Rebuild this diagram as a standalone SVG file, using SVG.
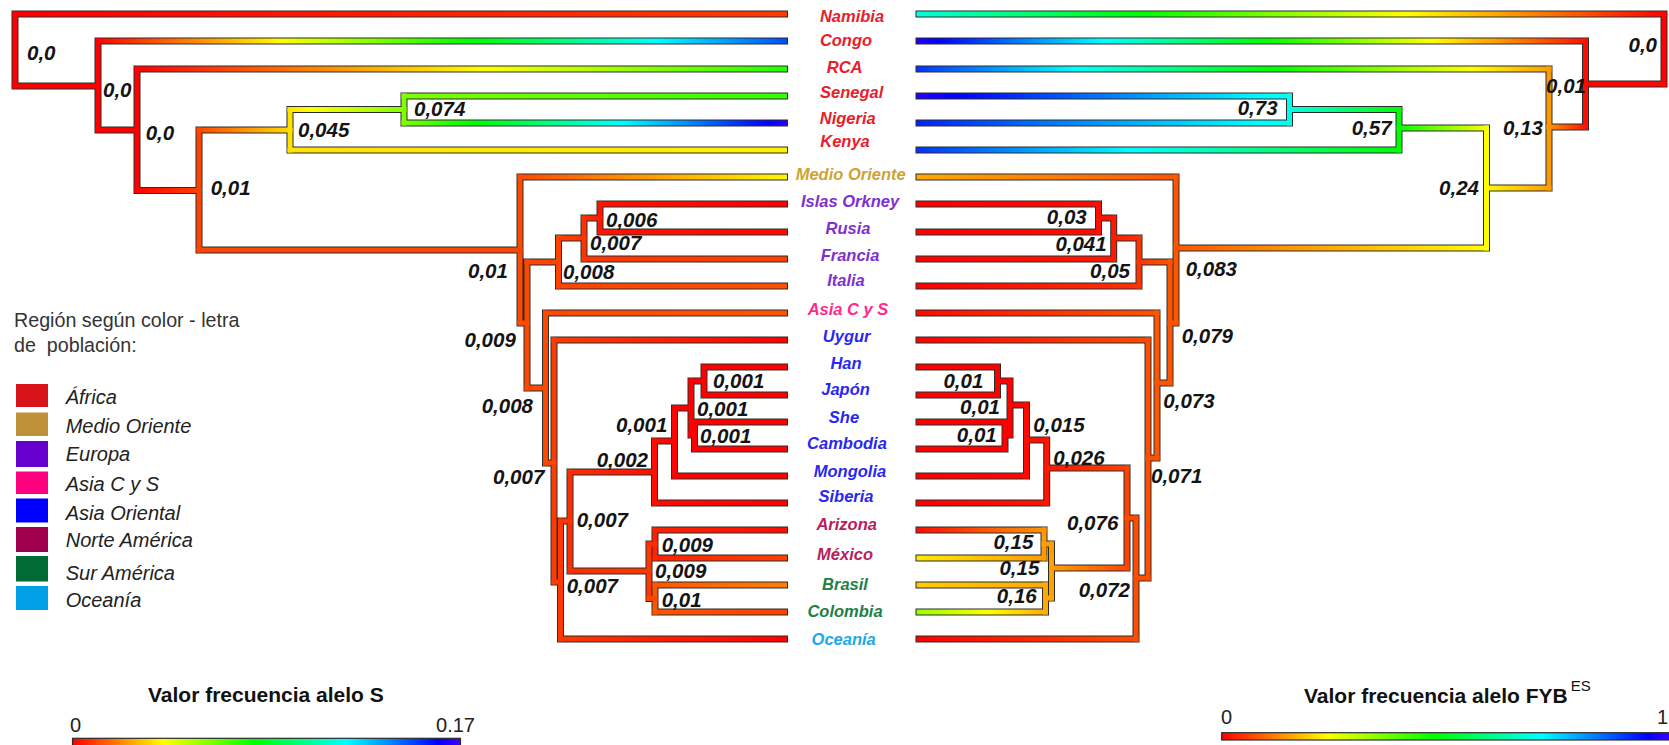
<svg xmlns="http://www.w3.org/2000/svg" width="1669" height="745" viewBox="0 0 1669 745">
<style>
.o{fill:none;stroke:#2c2c2c;stroke-width:7;stroke-linecap:square}
.n{font-family:'Liberation Sans',Arial,sans-serif;font-weight:bold;font-style:italic;font-size:20.5px;fill:#141414}
.e{text-anchor:end}
.t{font-family:'Liberation Sans',Arial,sans-serif;font-weight:bold;font-style:italic;font-size:16.5px;text-anchor:middle}
.af{fill:#E8202A}.mo{fill:#CDA434}.eu{fill:#8030D0}.ac{fill:#FF2A8A}.ao{fill:#2828F0}.na{fill:#B8205A}.sa{fill:#208048}.oc{fill:#20A8E8}
.lg{font-family:'Liberation Sans',Arial,sans-serif;font-style:italic;font-size:20px;fill:#222}
.hd{font-family:'Liberation Sans',Arial,sans-serif;font-size:19.7px;fill:#333}
.tt{font-family:'Liberation Sans',Arial,sans-serif;font-weight:bold;font-size:21px;fill:#111}
.sc{font-family:'Liberation Sans',Arial,sans-serif;font-size:20px;fill:#222}
</style>
<defs>
<linearGradient id="gL_nam"><stop offset="0" stop-color="#FF0000"/><stop offset="1" stop-color="#FF3C00"/></linearGradient>
<linearGradient id="gL_con"><stop offset="0" stop-color="#FF0000"/><stop offset=".135" stop-color="#FF8000"/><stop offset=".27" stop-color="#FFFF00"/><stop offset=".405" stop-color="#80FF00"/><stop offset=".541" stop-color="#00FF00"/><stop offset=".676" stop-color="#00FF80"/><stop offset=".811" stop-color="#00FFFF"/><stop offset=".946" stop-color="#0080FF"/><stop offset="1" stop-color="#004CFF"/></linearGradient>
<linearGradient id="gL_rca"><stop offset="0" stop-color="#FF0000"/><stop offset=".268" stop-color="#FF8000"/><stop offset=".536" stop-color="#FFFF00"/><stop offset=".804" stop-color="#80FF00"/><stop offset="1" stop-color="#22FF00"/></linearGradient>
<linearGradient id="gL_r34"><stop offset="0" stop-color="#FF0000"/><stop offset="1" stop-color="#FF4400"/></linearGradient>
<linearGradient id="gL_r45"><stop offset="0" stop-color="#FF4400"/><stop offset=".378" stop-color="#FF8000"/><stop offset="1" stop-color="#FFE200"/></linearGradient>
<linearGradient id="gL_r56"><stop offset="0" stop-color="#FFE200"/><stop offset=".189" stop-color="#FFFF00"/><stop offset="1" stop-color="#80FF00"/></linearGradient>
<linearGradient id="gL_sen"><stop offset="0" stop-color="#80FF00"/><stop offset="1" stop-color="#33FF00"/></linearGradient>
<linearGradient id="gL_nig"><stop offset="0" stop-color="#80FF00"/><stop offset=".19" stop-color="#00FF00"/><stop offset=".38" stop-color="#00FF80"/><stop offset=".57" stop-color="#00FFFF"/><stop offset=".759" stop-color="#0080FF"/><stop offset=".949" stop-color="#0000FF"/><stop offset="1" stop-color="#2200FF"/></linearGradient>
<linearGradient id="gL_ken"><stop offset="0" stop-color="#FFE200"/><stop offset="1" stop-color="#FFF200"/></linearGradient>
<linearGradient id="gL_mo"><stop offset="0" stop-color="#FF4800"/><stop offset=".317" stop-color="#FF8000"/><stop offset="1" stop-color="#FFF700"/></linearGradient>
<linearGradient id="h16_12"><stop offset="0" stop-color="#FF4400"/><stop offset="1" stop-color="#FF3300"/></linearGradient>
<linearGradient id="h12_5"><stop offset="0" stop-color="#FF3300"/><stop offset="1" stop-color="#FF1500"/></linearGradient>
<linearGradient id="h5_0"><stop offset="0" stop-color="#FF1500"/><stop offset="1" stop-color="#FF0000"/></linearGradient>
<linearGradient id="h5_2"><stop offset="0" stop-color="#FF1500"/><stop offset="1" stop-color="#FF0900"/></linearGradient>
<linearGradient id="h12_15"><stop offset="0" stop-color="#FF3300"/><stop offset="1" stop-color="#FF4000"/></linearGradient>
<linearGradient id="h16_19"><stop offset="0" stop-color="#FF4400"/><stop offset="1" stop-color="#FF5100"/></linearGradient>
<linearGradient id="h17_20"><stop offset="0" stop-color="#FF4800"/><stop offset="1" stop-color="#FF5500"/></linearGradient>
<linearGradient id="h14_0"><stop offset="0" stop-color="#FF3C00"/><stop offset="1" stop-color="#FF0000"/></linearGradient>
<linearGradient id="h13_0"><stop offset="0" stop-color="#FF3700"/><stop offset="1" stop-color="#FF0000"/></linearGradient>
<linearGradient id="h11_3"><stop offset="0" stop-color="#FF2F00"/><stop offset="1" stop-color="#FF0D00"/></linearGradient>
<linearGradient id="h3_0"><stop offset="0" stop-color="#FF0D00"/><stop offset="1" stop-color="#FF0000"/></linearGradient>
<linearGradient id="h3_1"><stop offset="0" stop-color="#FF0D00"/><stop offset="1" stop-color="#FF0400"/></linearGradient>
<linearGradient id="h11_13"><stop offset="0" stop-color="#FF2F00"/><stop offset="1" stop-color="#FF3700"/></linearGradient>
<linearGradient id="h8_3"><stop offset="0" stop-color="#FF2200"/><stop offset="1" stop-color="#FF0D00"/></linearGradient>
<linearGradient id="h8_15"><stop offset="0" stop-color="#FF2200"/><stop offset="1" stop-color="#FF4000"/></linearGradient>
<linearGradient id="h20_30"><stop offset="0" stop-color="#FF5500"/><stop offset="1" stop-color="#FF8000"/></linearGradient>
<linearGradient id="h20_15"><stop offset="0" stop-color="#FF5500"/><stop offset="1" stop-color="#FF4000"/></linearGradient>
<linearGradient id="gR_nam"><stop offset="0" stop-color="#00FFDD"/><stop offset=".128" stop-color="#00FF80"/><stop offset=".302" stop-color="#00FF00"/><stop offset=".477" stop-color="#80FF00"/><stop offset=".651" stop-color="#FFFF00"/><stop offset=".826" stop-color="#FF8000"/><stop offset="1" stop-color="#FF0000"/></linearGradient>
<linearGradient id="gR_con"><stop offset="0" stop-color="#2200FF"/><stop offset=".033" stop-color="#0000FF"/><stop offset=".155" stop-color="#0080FF"/><stop offset=".278" stop-color="#00FFFF"/><stop offset=".4" stop-color="#00FF80"/><stop offset=".522" stop-color="#00FF00"/><stop offset=".645" stop-color="#80FF00"/><stop offset=".767" stop-color="#FFFF00"/><stop offset=".89" stop-color="#FF8000"/><stop offset="1" stop-color="#FF0D00"/></linearGradient>
<linearGradient id="gR_rca"><stop offset="0" stop-color="#0033FF"/><stop offset=".094" stop-color="#0080FF"/><stop offset=".25" stop-color="#00FFFF"/><stop offset=".406" stop-color="#00FF80"/><stop offset=".5625" stop-color="#00FF00"/><stop offset=".719" stop-color="#80FF00"/><stop offset=".875" stop-color="#FFFF00"/><stop offset="1" stop-color="#FF9900"/></linearGradient>
<linearGradient id="gR_r23"><stop offset="0" stop-color="#FF9900"/><stop offset=".18" stop-color="#FF8000"/><stop offset="1" stop-color="#FF0D00"/></linearGradient>
<linearGradient id="gR_r34"><stop offset="0" stop-color="#FFFF00"/><stop offset="1" stop-color="#FF9900"/></linearGradient>
<linearGradient id="gR_r45"><stop offset="0" stop-color="#00FF00"/><stop offset=".5" stop-color="#80FF00"/><stop offset="1" stop-color="#FFFF00"/></linearGradient>
<linearGradient id="gR_r56"><stop offset="0" stop-color="#00FFEA"/><stop offset=".4545" stop-color="#00FF80"/><stop offset="1" stop-color="#00FF00"/></linearGradient>
<linearGradient id="gR_sen"><stop offset="0" stop-color="#2200FF"/><stop offset=".11" stop-color="#0000FF"/><stop offset=".521" stop-color="#0080FF"/><stop offset=".932" stop-color="#00FFFF"/><stop offset="1" stop-color="#00FFEA"/></linearGradient>
<linearGradient id="gR_nig"><stop offset="0" stop-color="#0022FF"/><stop offset=".386" stop-color="#0080FF"/><stop offset=".912" stop-color="#00FFFF"/><stop offset="1" stop-color="#00FFEA"/></linearGradient>
<linearGradient id="gR_ken"><stop offset="0" stop-color="#0033FF"/><stop offset=".167" stop-color="#0080FF"/><stop offset=".444" stop-color="#00FFFF"/><stop offset=".722" stop-color="#00FF80"/><stop offset="1" stop-color="#00FF00"/></linearGradient>
<linearGradient id="gR_r4a"><stop offset="0" stop-color="#FF5500"/><stop offset=".25" stop-color="#FF8000"/><stop offset="1" stop-color="#FFFF00"/></linearGradient>
<linearGradient id="gR_mo"><stop offset="0" stop-color="#FFAA00"/><stop offset="1" stop-color="#FF5500"/></linearGradient>
<linearGradient id="h12_20"><stop offset="0" stop-color="#FF3300"/><stop offset="1" stop-color="#FF5500"/></linearGradient>
<linearGradient id="h0_12"><stop offset="0" stop-color="#FF0000"/><stop offset="1" stop-color="#FF3300"/></linearGradient>
<linearGradient id="h6_12"><stop offset="0" stop-color="#FF1A00"/><stop offset="1" stop-color="#FF3300"/></linearGradient>
<linearGradient id="h0_6"><stop offset="0" stop-color="#FF0000"/><stop offset="1" stop-color="#FF1A00"/></linearGradient>
<linearGradient id="h3_6"><stop offset="0" stop-color="#FF0D00"/><stop offset="1" stop-color="#FF1A00"/></linearGradient>
<linearGradient id="h0_3"><stop offset="0" stop-color="#FF0000"/><stop offset="1" stop-color="#FF0D00"/></linearGradient>
<linearGradient id="h2_20"><stop offset="0" stop-color="#FF0900"/><stop offset="1" stop-color="#FF5500"/></linearGradient>
<linearGradient id="h0_18"><stop offset="0" stop-color="#FF0000"/><stop offset="1" stop-color="#FF4D00"/></linearGradient>
<linearGradient id="h5_16"><stop offset="0" stop-color="#FF1500"/><stop offset="1" stop-color="#FF4400"/></linearGradient>
<linearGradient id="h0_5"><stop offset="0" stop-color="#FF0000"/><stop offset="1" stop-color="#FF1500"/></linearGradient>
<linearGradient id="h2_5"><stop offset="0" stop-color="#FF0900"/><stop offset="1" stop-color="#FF1500"/></linearGradient>
<linearGradient id="h0_2"><stop offset="0" stop-color="#FF0000"/><stop offset="1" stop-color="#FF0900"/></linearGradient>
<linearGradient id="h38_16"><stop offset="0" stop-color="#FFA200"/><stop offset="1" stop-color="#FF4400"/></linearGradient>
<linearGradient id="h3_36"><stop offset="0" stop-color="#FF0D00"/><stop offset="1" stop-color="#FF9900"/></linearGradient>
<linearGradient id="h55_36"><stop offset="0" stop-color="#FFEA00"/><stop offset="1" stop-color="#FF9900"/></linearGradient>
<linearGradient id="h48_40"><stop offset="0" stop-color="#FFCC00"/><stop offset="1" stop-color="#FFAA00"/></linearGradient>
<linearGradient id="h85_40"><stop offset="0" stop-color="#95FF00"/><stop offset=".556" stop-color="#FFFF00"/><stop offset="1" stop-color="#FFAA00"/></linearGradient>
<linearGradient id="cbar"><stop offset="0" stop-color="#FF0000"/><stop offset=".118" stop-color="#FF8000"/><stop offset=".235" stop-color="#FFFF00"/><stop offset=".353" stop-color="#80FF00"/><stop offset=".471" stop-color="#00FF00"/><stop offset=".588" stop-color="#00FF80"/><stop offset=".706" stop-color="#00FFFF"/><stop offset=".824" stop-color="#0080FF"/><stop offset=".941" stop-color="#0000FF"/><stop offset="1" stop-color="#4000FF"/></linearGradient>
</defs>
<rect width="1669" height="745" fill="#fff"/>

<g id="connectors">
<g id="tree-left">
<path class="o" d="M15 14H784.5M15 14V86M15 86H98M98 41V130M98 41H784.5M98 130H137M137 69V190.5M137 69H784.5M137 190.5H199M199 130V250M199 130H290M290 109.5V150M290 150H784.5M290 109.5H404M404 96V123M404 96H784.5M404 123H784.5M199 250H520M520 177V323M520 177H784.5M520 323H527M527 262V388M527 262H558.5M558.5 238V286M558.5 286H784.5M558.5 238H584M584 218V259M584 259H784.5M584 218H600M600 204V232M600 204H784.5M600 232H784.5M527 388H545.5M545.5 313V463M545.5 313H784.5M545.5 463H554M554 340V582M554 340H784.5M554 582H560.5M560.5 521V639M560.5 639H784.5M560.5 521H570M570 472V571M570 472H654.5M654.5 441V503M654.5 503H784.5M654.5 441H674.5M674.5 408V476M674.5 476H784.5M674.5 408H691M691 381V435M691 381H704M704 367V395M704 367H784.5M704 395H784.5M691 435H694.5M694.5 422V449M694.5 422H784.5M694.5 449H784.5M570 571H649M649 544V598.5M649 544H655M655 530V558M655 530H784.5M655 558H784.5M649 598.5H655M655 585V612M655 585H784.5M655 612H784.5"/>
<rect x="12.5" y="11.5" width="5" height="77" fill="#FF0000"/>
<rect x="95.5" y="38.5" width="5" height="94" fill="#FF0000"/>
<rect x="134.5" y="66.5" width="5" height="126.5" fill="#FF0000"/>
<rect x="196.5" y="127.5" width="5" height="125" fill="#FF4400"/>
<rect x="287.5" y="107" width="5" height="45.5" fill="#FFE200"/>
<rect x="401.5" y="93.5" width="5" height="32" fill="#80FF00"/>
<rect x="517.5" y="174.5" width="5" height="151" fill="#FF4800"/>
<rect x="524.5" y="259.5" width="5" height="131" fill="#FF4800"/>
<rect x="556" y="235.5" width="5" height="53" fill="#FF4400"/>
<rect x="581.5" y="215.5" width="5" height="46" fill="#FF3300"/>
<rect x="597.5" y="201.5" width="5" height="33" fill="#FF1500"/>
<rect x="543" y="310.5" width="5" height="155" fill="#FF4800"/>
<rect x="551.5" y="337.5" width="5" height="247" fill="#FF3C00"/>
<rect x="558" y="518.5" width="5" height="123" fill="#FF3700"/>
<rect x="567.5" y="469.5" width="5" height="104" fill="#FF2F00"/>
<rect x="652" y="438.5" width="5" height="67" fill="#FF0D00"/>
<rect x="672" y="405.5" width="5" height="73" fill="#FF0400"/>
<rect x="688.5" y="378.5" width="5" height="59" fill="#FF0000"/>
<rect x="701.5" y="364.5" width="5" height="33" fill="#FF0000"/>
<rect x="692" y="419.5" width="5" height="32" fill="#FF0000"/>
<rect x="646.5" y="541.5" width="5" height="59.5" fill="#FF3700"/>
<rect x="652.5" y="527.5" width="5" height="33" fill="#FF2200"/>
<rect x="652.5" y="582.5" width="5" height="32" fill="#FF5500"/>
<rect x="12.5" y="11.5" width="774.5" height="5" fill="url(#gL_nam)"/>
<rect x="12.5" y="83.5" width="88" height="5" fill="#FF0000"/>
<rect x="95.5" y="38.5" width="691.5" height="5" fill="url(#gL_con)"/>
<rect x="95.5" y="127.5" width="44" height="5" fill="#FF0000"/>
<rect x="134.5" y="66.5" width="652.5" height="5" fill="url(#gL_rca)"/>
<rect x="134.5" y="188" width="67" height="5" fill="url(#gL_r34)"/>
<rect x="196.5" y="127.5" width="96" height="5" fill="url(#gL_r45)"/>
<rect x="287.5" y="107" width="119" height="5" fill="url(#gL_r56)"/>
<rect x="401.5" y="93.5" width="385.5" height="5" fill="url(#gL_sen)"/>
<rect x="401.5" y="120.5" width="385.5" height="5" fill="url(#gL_nig)"/>
<rect x="287.5" y="147.5" width="499.5" height="5" fill="url(#gL_ken)"/>
<rect x="196.5" y="247.5" width="326" height="5" fill="#FF4600"/>
<rect x="517.5" y="174.5" width="269.5" height="5" fill="url(#gL_mo)"/>
<rect x="517.5" y="320.5" width="12" height="5" fill="#FF4800"/>
<rect x="524.5" y="259.5" width="36.5" height="5" fill="#FF4600"/>
<rect x="556" y="235.5" width="30.5" height="5" fill="url(#h16_12)"/>
<rect x="581.5" y="215.5" width="21" height="5" fill="url(#h12_5)"/>
<rect x="597.5" y="201.5" width="189.5" height="5" fill="url(#h5_0)"/>
<rect x="597.5" y="229.5" width="189.5" height="5" fill="url(#h5_2)"/>
<rect x="581.5" y="256.5" width="205.5" height="5" fill="url(#h12_15)"/>
<rect x="556" y="283.5" width="231" height="5" fill="url(#h16_19)"/>
<rect x="524.5" y="385.5" width="23.5" height="5" fill="#FF4800"/>
<rect x="543" y="310.5" width="244" height="5" fill="url(#h17_20)"/>
<rect x="543" y="460.5" width="13.5" height="5" fill="#FF4200"/>
<rect x="551.5" y="337.5" width="235.5" height="5" fill="url(#h14_0)"/>
<rect x="551.5" y="579.5" width="11.5" height="5" fill="#FF3A00"/>
<rect x="558" y="636.5" width="229" height="5" fill="url(#h13_0)"/>
<rect x="558" y="518.5" width="14.5" height="5" fill="#FF3300"/>
<rect x="567.5" y="469.5" width="89.5" height="5" fill="url(#h11_3)"/>
<rect x="652" y="500.5" width="135" height="5" fill="url(#h3_0)"/>
<rect x="652" y="438.5" width="25" height="5" fill="url(#h3_1)"/>
<rect x="672" y="473.5" width="115" height="5" fill="#FF0200"/>
<rect x="672" y="405.5" width="21.5" height="5" fill="#FF0000"/>
<rect x="688.5" y="378.5" width="18" height="5" fill="#FF0000"/>
<rect x="701.5" y="364.5" width="85.5" height="5" fill="#FF0000"/>
<rect x="701.5" y="392.5" width="85.5" height="5" fill="#FF0000"/>
<rect x="688.5" y="432.5" width="8.5" height="5" fill="#FF0000"/>
<rect x="692" y="419.5" width="95" height="5" fill="#FF0000"/>
<rect x="692" y="446.5" width="95" height="5" fill="#FF0000"/>
<rect x="567.5" y="568.5" width="84" height="5" fill="url(#h11_13)"/>
<rect x="646.5" y="541.5" width="11" height="5" fill="#FF2C00"/>
<rect x="652.5" y="527.5" width="134.5" height="5" fill="url(#h8_3)"/>
<rect x="652.5" y="555.5" width="134.5" height="5" fill="url(#h8_15)"/>
<rect x="646.5" y="596" width="11" height="5" fill="#FF4400"/>
<rect x="652.5" y="582.5" width="134.5" height="5" fill="url(#h20_30)"/>
<rect x="652.5" y="609.5" width="134.5" height="5" fill="url(#h20_15)"/>
</g>

<g id="tree-right">
<path class="o" d="M919 14H1664M1664 14V84M1585.5 84H1664M1585.5 41V127M919 41H1585.5M1549 127H1585.5M1549 69V188M919 69H1549M1486.5 188H1549M1486.5 128V248M1399 128H1486.5M1399 109.5V150M919 150H1399M1289.5 109.5H1399M1289.5 96V123M919 96H1289.5M919 123H1289.5M1176 248H1486.5M1176 177V323M919 177H1176M1170 323H1176M1170 262V383M1139 262H1170M1139 238V286M919 286H1139M1113.7 238H1139M1113.7 218V259M919 259H1113.7M1098.5 218H1113.7M1098.5 204V232M919 204H1098.5M919 232H1098.5M1157 383H1170M1157 313V458M919 313H1157M1148 458H1157M1148 340V578M919 340H1148M1136 578H1148M1136 518V639M919 639H1136M1127 518H1136M1127 468V568M1046.7 468H1127M1046.7 440V503M919 503H1046.7M1026.5 440H1046.7M1026.5 405V476M919 476H1026.5M1010 405H1026.5M1010 381V435M997.5 381H1010M997.5 367V395M919 367H997.5M919 395H997.5M1005 435H1010M1005 422V449M919 422H1005M919 449H1005M1051.5 568H1127M1051.5 544V598M1044 544H1051.5M1044 530V558M919 530H1044M919 558H1044M1045.5 598H1051.5M1045.5 585V612M919 585H1045.5M919 612H1045.5"/>
<rect x="1661.5" y="11.5" width="5" height="75" fill="#FF0000"/>
<rect x="1583" y="38.5" width="5" height="91" fill="#FF0D00"/>
<rect x="1546.5" y="66.5" width="5" height="124" fill="#FF9900"/>
<rect x="1484" y="125.5" width="5" height="125" fill="#FFFF00"/>
<rect x="1396.5" y="107" width="5" height="45.5" fill="#00FF00"/>
<rect x="1287" y="93.5" width="5" height="32" fill="#00FFEA"/>
<rect x="1173.5" y="174.5" width="5" height="151" fill="#FF5500"/>
<rect x="1167.5" y="259.5" width="5" height="126" fill="#FF5500"/>
<rect x="1136.5" y="235.5" width="5" height="53" fill="#FF3300"/>
<rect x="1111.2" y="215.5" width="5" height="46" fill="#FF1A00"/>
<rect x="1096" y="201.5" width="5" height="33" fill="#FF0D00"/>
<rect x="1154.5" y="310.5" width="5" height="150" fill="#FF5500"/>
<rect x="1145.5" y="337.5" width="5" height="243" fill="#FF4D00"/>
<rect x="1133.5" y="515.5" width="5" height="126" fill="#FF4D00"/>
<rect x="1124.5" y="465.5" width="5" height="105" fill="#FF4400"/>
<rect x="1044.2" y="437.5" width="5" height="68" fill="#FF1500"/>
<rect x="1024" y="402.5" width="5" height="76" fill="#FF0900"/>
<rect x="1007.5" y="378.5" width="5" height="59" fill="#FF0000"/>
<rect x="995" y="364.5" width="5" height="33" fill="#FF0000"/>
<rect x="1002.5" y="419.5" width="5" height="32" fill="#FF0000"/>
<rect x="1049" y="541.5" width="5" height="59" fill="#FFA200"/>
<rect x="1041.5" y="527.5" width="5" height="33" fill="#FF9900"/>
<rect x="1043" y="582.5" width="5" height="32" fill="#FFAA00"/>
<rect x="916.5" y="11.5" width="750" height="5" fill="url(#gR_nam)"/>
<rect x="1583" y="81.5" width="83.5" height="5" fill="#FF0600"/>
<rect x="916.5" y="38.5" width="671.5" height="5" fill="url(#gR_con)"/>
<rect x="1546.5" y="124.5" width="41.5" height="5" fill="url(#gR_r23)"/>
<rect x="916.5" y="66.5" width="635" height="5" fill="url(#gR_rca)"/>
<rect x="1484" y="185.5" width="67.5" height="5" fill="url(#gR_r34)"/>
<rect x="1396.5" y="125.5" width="92.5" height="5" fill="url(#gR_r45)"/>
<rect x="916.5" y="147.5" width="485" height="5" fill="url(#gR_ken)"/>
<rect x="1287" y="107" width="114.5" height="5" fill="url(#gR_r56)"/>
<rect x="916.5" y="93.5" width="375.5" height="5" fill="url(#gR_sen)"/>
<rect x="916.5" y="120.5" width="375.5" height="5" fill="url(#gR_nig)"/>
<rect x="1173.5" y="245.5" width="315.5" height="5" fill="url(#gR_r4a)"/>
<rect x="916.5" y="174.5" width="262" height="5" fill="url(#gR_mo)"/>
<rect x="1167.5" y="320.5" width="11" height="5" fill="#FF5500"/>
<rect x="1136.5" y="259.5" width="36" height="5" fill="url(#h12_20)"/>
<rect x="916.5" y="283.5" width="225" height="5" fill="url(#h0_12)"/>
<rect x="1111.2" y="235.5" width="30.3" height="5" fill="url(#h6_12)"/>
<rect x="916.5" y="256.5" width="199.7" height="5" fill="url(#h0_6)"/>
<rect x="1096" y="215.5" width="20.2" height="5" fill="url(#h3_6)"/>
<rect x="916.5" y="201.5" width="184.5" height="5" fill="url(#h0_3)"/>
<rect x="916.5" y="229.5" width="184.5" height="5" fill="url(#h0_3)"/>
<rect x="1154.5" y="380.5" width="18" height="5" fill="#FF5500"/>
<rect x="916.5" y="310.5" width="243" height="5" fill="url(#h2_20)"/>
<rect x="1145.5" y="455.5" width="14" height="5" fill="#FF5100"/>
<rect x="916.5" y="337.5" width="234" height="5" fill="url(#h0_18)"/>
<rect x="1133.5" y="575.5" width="17" height="5" fill="#FF4D00"/>
<rect x="916.5" y="636.5" width="222" height="5" fill="url(#h0_18)"/>
<rect x="1124.5" y="515.5" width="14" height="5" fill="#FF4800"/>
<rect x="1044.2" y="465.5" width="85.3" height="5" fill="url(#h5_16)"/>
<rect x="916.5" y="500.5" width="132.7" height="5" fill="url(#h0_5)"/>
<rect x="1024" y="437.5" width="25.2" height="5" fill="url(#h2_5)"/>
<rect x="916.5" y="473.5" width="112.5" height="5" fill="url(#h0_2)"/>
<rect x="1007.5" y="402.5" width="21.5" height="5" fill="#FF0400"/>
<rect x="995" y="378.5" width="17.5" height="5" fill="#FF0000"/>
<rect x="916.5" y="364.5" width="83.5" height="5" fill="#FF0000"/>
<rect x="916.5" y="392.5" width="83.5" height="5" fill="#FF0000"/>
<rect x="1002.5" y="432.5" width="10" height="5" fill="#FF0000"/>
<rect x="916.5" y="419.5" width="91" height="5" fill="#FF0000"/>
<rect x="916.5" y="446.5" width="91" height="5" fill="#FF0000"/>
<rect x="1049" y="565.5" width="80.5" height="5" fill="url(#h38_16)"/>
<rect x="1041.5" y="541.5" width="12.5" height="5" fill="#FF9E00"/>
<rect x="916.5" y="527.5" width="130" height="5" fill="url(#h3_36)"/>
<rect x="916.5" y="555.5" width="130" height="5" fill="url(#h55_36)"/>
<rect x="1043" y="595.5" width="11" height="5" fill="#FFA600"/>
<rect x="916.5" y="582.5" width="131.5" height="5" fill="url(#h48_40)"/>
<rect x="916.5" y="609.5" width="131.5" height="5" fill="url(#h85_40)"/>
</g>
</g>

<g id="branch-values-left" class="n">
<text x="27" y="60">0,0</text>
<text x="103" y="96.7">0,0</text>
<text x="145.7" y="140">0,0</text>
<text x="210.7" y="195">0,01</text>
<text x="298" y="136.7">0,045</text>
<text x="414" y="116">0,074</text>
<text x="468" y="278">0,01</text>
<text x="464.5" y="346.7">0,009</text>
<text x="481.7" y="413">0,008</text>
<text x="493" y="484">0,007</text>
<text x="576.7" y="526.7">0,007</text>
<text x="566.7" y="593">0,007</text>
<text x="563" y="279">0,008</text>
<text x="590" y="250">0,007</text>
<text x="606" y="226.7">0,006</text>
<text x="616" y="431.7">0,001</text>
<text x="596.7" y="467">0,002</text>
<text x="713" y="387.7">0,001</text>
<text x="697" y="415.7">0,001</text>
<text x="700" y="443">0,001</text>
<text x="661.7" y="551.7">0,009</text>
<text x="655" y="577.7">0,009</text>
<text x="661.7" y="606.7">0,01</text>
</g>
<g id="branch-values-right" class="n">
<text class="e" x="1657" y="51.7">0,0</text>
<text class="e" x="1586" y="93">0,01</text>
<text class="e" x="1543" y="135">0,13</text>
<text class="e" x="1479" y="195">0,24</text>
<text class="e" x="1391.6" y="135">0,57</text>
<text class="e" x="1277.6" y="115">0,73</text>
<text x="1185.7" y="276">0,083</text>
<text x="1181.7" y="343.3">0,079</text>
<text x="1163.3" y="408.3">0,073</text>
<text x="1151" y="482.7">0,071</text>
<text class="e" x="1130" y="596.7">0,072</text>
<text class="e" x="1118.3" y="530">0,076</text>
<text x="1053.3" y="465">0,026</text>
<text x="1033.3" y="431.7">0,015</text>
<text class="e" x="1086.7" y="224">0,03</text>
<text class="e" x="1106.7" y="251">0,041</text>
<text class="e" x="1130" y="278.3">0,05</text>
<text class="e" x="983.3" y="387.7">0,01</text>
<text class="e" x="1000" y="414.3">0,01</text>
<text class="e" x="996.7" y="441.7">0,01</text>
<text class="e" x="1033.3" y="549">0,15</text>
<text class="e" x="1039.3" y="575">0,15</text>
<text class="e" x="1036.7" y="603.3">0,16</text>
</g>

<g id="populations" class="t">
<g id="namibia"><text class="af" x="852" y="21.7">Namibia</text></g>
<g id="congo"><text class="af" x="846" y="46">Congo</text></g>
<g id="rca"><text class="af" x="844.6" y="72.7">RCA</text></g>
<g id="senegal"><text class="af" x="851.6" y="97.5">Senegal</text></g>
<g id="nigeria"><text class="af" x="847.7" y="123.7">Nigeria</text></g>
<g id="kenya"><text class="af" x="845" y="147">Kenya</text></g>
<g id="medio-oriente"><text class="mo" x="850.7" y="180">Medio Oriente</text></g>
<g id="islas-orkney"><text class="eu" x="850" y="207">Islas Orkney</text></g>
<g id="rusia"><text class="eu" x="848" y="233.7">Rusia</text></g>
<g id="francia"><text class="eu" x="850" y="261.3">Francia</text></g>
<g id="italia"><text class="eu" x="846" y="286">Italia</text></g>
<g id="asia-cys"><text class="ac" x="848" y="314.7">Asia C y S</text></g>
<g id="uygur"><text class="ao" x="846.7" y="342">Uygur</text></g>
<g id="han"><text class="ao" x="846" y="369">Han</text></g>
<g id="japon"><text class="ao" x="845.5" y="395">Japón</text></g>
<g id="she"><text class="ao" x="844" y="423">She</text></g>
<g id="cambodia"><text class="ao" x="847" y="449">Cambodia</text></g>
<g id="mongolia"><text class="ao" x="850" y="477">Mongolia</text></g>
<g id="siberia"><text class="ao" x="846" y="502">Siberia</text></g>
<g id="arizona"><text class="na" x="846.7" y="530">Arizona</text></g>
<g id="mexico"><text class="na" x="845" y="560">México</text></g>
<g id="brasil"><text class="sa" x="845" y="590">Brasil</text></g>
<g id="colombia"><text class="sa" x="845" y="617">Colombia</text></g>
<g id="oceania"><text class="oc" x="843.7" y="644.7">Oceanía</text></g>
</g>

<g id="legend-region">
<text class="hd" x="14" y="326.7">Región según color - letra</text>
<text class="hd" x="14" y="351.7" xml:space="preserve">de  población:</text>
<rect x="16" y="384" width="32" height="23" fill="#D7141A"/>
<rect x="16" y="412.5" width="32" height="23.5" fill="#BF923A"/>
<rect x="16" y="441" width="32" height="26" fill="#6600CC"/>
<rect x="16" y="471.5" width="32" height="22.5" fill="#FF0080"/>
<rect x="16" y="498.5" width="32" height="24" fill="#0000FF"/>
<rect x="16" y="527" width="32" height="25" fill="#9E004D"/>
<rect x="16" y="556" width="32" height="25.5" fill="#006B35"/>
<rect x="16" y="586" width="32" height="24" fill="#00A0E4"/>
<text class="lg" x="65.7" y="404">África</text>
<text class="lg" x="65.7" y="432.7">Medio Oriente</text>
<text class="lg" x="65.7" y="460.7">Europa</text>
<text class="lg" x="65.7" y="491">Asia C y S</text>
<text class="lg" x="65.7" y="520">Asia Oriental</text>
<text class="lg" x="65.7" y="546.7">Norte América</text>
<text class="lg" x="65.7" y="580">Sur América</text>
<text class="lg" x="65.7" y="606.7">Oceanía</text>
</g>

<g id="scale-s">
<text class="tt" x="148" y="701.7">Valor frecuencia alelo S</text>
<text class="sc" x="70" y="731.7">0</text>
<text class="sc" x="475" y="731.7" text-anchor="end">0.17</text>
<rect x="72.5" y="738.3" width="388" height="12" fill="url(#cbar)" stroke="#2c2c2c" stroke-width="1.2"/>
</g>
<g id="scale-fyb">
<text class="tt" x="1304" y="702.7">Valor frecuencia alelo FYB<tspan dx="3" dy="-11.7" font-size="15" font-weight="normal">ES</tspan></text>
<text class="sc" x="1221" y="724">0</text>
<text class="sc" x="1657" y="724">1</text>
<rect x="1221.7" y="732.7" width="452" height="7.3" fill="url(#cbar)" stroke="#2c2c2c" stroke-width="1.2"/>
</g>
</svg>
